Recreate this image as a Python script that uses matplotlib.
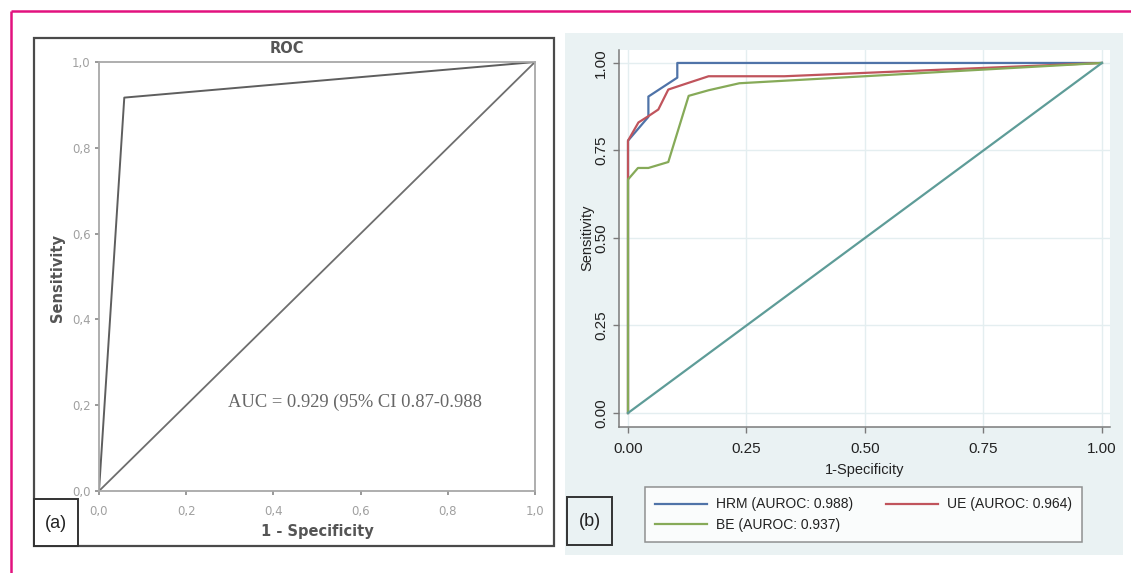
import matplotlib
matplotlib.use("Agg")
import matplotlib.pyplot as plt
from matplotlib.patches import Rectangle
from matplotlib.lines import Line2D

# ── Data ──────────────────────────────────────────────────────────────────────
# panel (a): single ROC curve
a_fpr = [0.0, 0.058, 1.0]
a_tpr = [0.0, 0.917, 1.0]
a_ticks = [0.0, 0.2, 0.4, 0.6, 0.8, 1.0]
a_tick_labels = ["0,0", "0,2", "0,4", "0,6", "0,8", "1,0"]
a_auc_text = "AUC = 0.929 (95% CI 0.87-0.988"

# panel (b): three ROC curves
hrm_fpr = [0.0, 0.0, 0.043, 0.043, 0.104, 0.104, 1.0]
hrm_tpr = [0.0, 0.778, 0.846, 0.904, 0.958, 1.0, 1.0]
ue_fpr = [0.0, 0.0, 0.022, 0.043, 0.064, 0.085, 0.125, 0.17, 0.33, 1.0]
ue_tpr = [0.0, 0.778, 0.83, 0.848, 0.867, 0.924, 0.942, 0.962, 0.962, 1.0]
be_fpr = [0.0, 0.0, 0.021, 0.043, 0.085, 0.128, 0.17, 0.235, 1.0]
be_tpr = [0.0, 0.667, 0.70, 0.70, 0.717, 0.906, 0.922, 0.942, 1.0]
b_labels = ["HRM (AUROC: 0.988)", "UE (AUROC: 0.964)", "BE (AUROC: 0.937)"]
b_ticks = [0.0, 0.25, 0.5, 0.75, 1.0]
b_tick_labels = ["0.00", "0.25", "0.50", "0.75", "1.00"]

# ── Styles ────────────────────────────────────────────────────────────────────
W, H = 1131, 573
MAGENTA = "#e2127f"
STATA_BG = "#eaf2f3"
C_HRM = "#4f73a8"
C_UE = "#c0545c"
C_BE = "#86aa58"
C_REF = "#5e9c98"
SANS_B = ["Liberation Sans Narrow", "Liberation Sans", "DejaVu Sans"]

fig = plt.figure(figsize=(W / 100, H / 100), dpi=100)
fig.patch.set_facecolor("white")


def fig_rect(x0, y0, x1, y1):
    """pixel box (top-left origin) -> figure fraction rect"""
    return [x0 / W, 1 - y1 / H, (x1 - x0) / W, (y1 - y0) / H]


# background layer in pixel coordinates for frames / boxes
bg = fig.add_axes([0, 0, 1, 1], zorder=-10)
bg.set_xlim(0, W)
bg.set_ylim(H, 0)
bg.axis("off")

# magenta page frame (top and left edges)
bg.plot([11, W], [11, 11], color=MAGENTA, lw=1.8, solid_capstyle="butt")
bg.plot([11, 11], [11, H], color=MAGENTA, lw=1.8, solid_capstyle="butt")

# panel (a) outer box
bg.add_patch(Rectangle((34, 38), 520, 508, fill=False, ec="#4a4a4a", lw=1.6))
bg.add_patch(Rectangle((34, 499), 44, 47, fc="white", ec="#333333", lw=1.4))
bg.text(56, 523, "(a)", fontsize=13, ha="center", va="center",
        family=["Liberation Sans"], color="#222222")

# panel (b) background + label box
bg.add_patch(Rectangle((565, 33), 558, 522, fc=STATA_BG, ec="none"))
bg.add_patch(Rectangle((567, 497), 45, 48, fc=STATA_BG, ec="#333333", lw=1.4))
bg.text(589.5, 521, "(b)", fontsize=13, ha="center", va="center",
        family=["Liberation Sans"], color="#222222")

# ── Panel (a) ─────────────────────────────────────────────────────────────────
ax_a = fig.add_axes(fig_rect(99, 62, 535, 491))
ax_a.set_xlim(0, 1)
ax_a.set_ylim(0, 1)
ax_a.plot([0, 1], [0, 1], color="#6e6e6e", lw=1.3)
ax_a.plot(a_fpr, a_tpr, color="#5e5e5e", lw=1.4)
for sp in ax_a.spines.values():
    sp.set_color("#a8a8a8")
    sp.set_linewidth(1.3)
ax_a.set_xticks(a_ticks)
ax_a.set_xticklabels(a_tick_labels)
ax_a.set_yticks(a_ticks)
ax_a.set_yticklabels(a_tick_labels)
ax_a.tick_params(length=3, width=1.2, color="#888888", labelcolor="#a0a0a0",
                 labelsize=8.5)
ax_a.tick_params(axis="x", pad=7)
ax_a.tick_params(axis="y", pad=3)
ax_a.set_xlabel("1 - Specificity", fontsize=10.5, fontweight="bold",
                color="#555555")
ax_a.xaxis.set_label_coords(0.502, -0.077)
ax_a.set_ylabel("Sensitivity", fontsize=10.5, fontweight="bold",
                color="#555555")
ax_a.yaxis.set_label_coords(-0.079, 0.497)
ax_a.text(0.432, 1.031, "ROC", transform=ax_a.transAxes, fontsize=10.5,
          fontweight="bold", color="#555555", ha="center", va="center")
ax_a.text(0.297, 0.207, a_auc_text, transform=ax_a.transAxes, fontsize=13.3,
          family=["Liberation Serif"], color="#666666", ha="left",
          va="center")

# ── Panel (b) ─────────────────────────────────────────────────────────────────
ax_b = fig.add_axes(fig_rect(619, 50, 1110, 427))
ax_b.set_facecolor("white")
ax_b.set_xlim(-0.019, 1.017)
ax_b.set_ylim(-0.04, 1.037)
ax_b.set_xticks(b_ticks)
ax_b.set_yticks(b_ticks)
ax_b.grid(True, color="#e4eef0", lw=1.0)
ax_b.set_axisbelow(True)

ax_b.plot(hrm_fpr, hrm_tpr, color=C_HRM, lw=1.6, label=b_labels[0])
ax_b.plot(ue_fpr, ue_tpr, color=C_UE, lw=1.6, label=b_labels[1])
ax_b.plot(be_fpr, be_tpr, color=C_BE, lw=1.6, label=b_labels[2])
ax_b.plot([0, 1], [0, 1], color=C_REF, lw=1.6)

for side in ("top", "right"):
    ax_b.spines[side].set_visible(False)
for side in ("left", "bottom"):
    ax_b.spines[side].set_color("#7a7a7a")
    ax_b.spines[side].set_linewidth(1.1)

ax_b.set_xticklabels(b_tick_labels, family=SANS_B, fontsize=11,
                     color="#222222")
ax_b.set_yticklabels(b_tick_labels, family=SANS_B, fontsize=11,
                     color="#222222", rotation=90, va="center")
ax_b.tick_params(length=4, width=1.0, color="#7a7a7a")
ax_b.tick_params(axis="x", pad=7)
ax_b.tick_params(axis="y", pad=4)
ax_b.set_xlabel("1-Specificity", family=SANS_B, fontsize=10.5,
                color="#222222")
ax_b.xaxis.set_label_coords(0.501, -0.095)
ax_b.set_ylabel("Sensitivity", family=SANS_B, fontsize=10.5, color="#222222")
ax_b.yaxis.set_label_coords(-0.051, 0.501)

# legend: HRM / BE in first column, UE in second (matches Stata layout)
handles = [Line2D([], [], color=C_HRM, lw=1.6),
           Line2D([], [], color=C_BE, lw=1.6),
           Line2D([], [], color=C_UE, lw=1.6)]
labels = [b_labels[0], b_labels[2], b_labels[1]]
leg = ax_b.legend(handles, labels, ncol=2, loc="upper left",
                  bbox_to_anchor=(645 / W, 1 - 487 / H),
                  bbox_transform=fig.transFigure,
                  prop={"family": SANS_B, "size": 10},
                  frameon=True, fancybox=False, edgecolor="#777777",
                  handlelength=3.7, handletextpad=0.65, columnspacing=2.4,
                  labelspacing=0.45, borderpad=0.75, borderaxespad=0)
leg.get_frame().set_linewidth(1.1)
for t in leg.get_texts():
    t.set_color("#222222")

fig.savefig("out.png", dpi=100, facecolor="white")
